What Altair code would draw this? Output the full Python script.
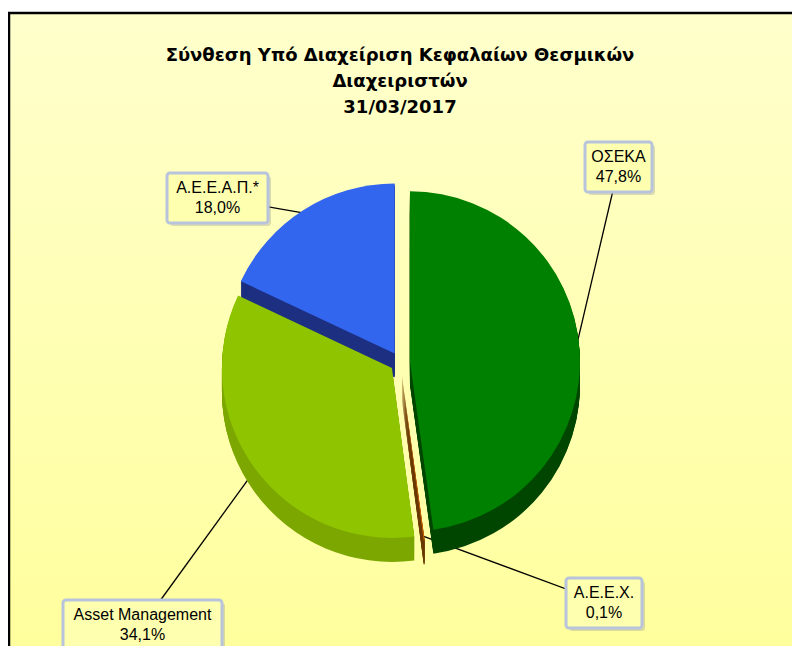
import altair as alt
import pandas as pd

# ---------------- data ----------------
categories = ["ΟΣΕΚΑ", "Α.Ε.Ε.Χ.", "Asset Management", "Α.Ε.Ε.Α.Π.*"]
shares = [47.8, 0.1, 34.1, 18.0]
title_lines = ["Σύνθεση Υπό Διαχείριση  Κεφαλαίων  Θεσμικών", "Διαχειριστών", "31/03/2017"]

# ---------------- styles ----------------
top_colors = ["#008000", "#CC6600", "#8FC400", "#3366EE"]
side_colors = ["#004600", "#6B3A00", "#7CA600", "#1C2F80"]
# label box corners (x0, y0, x1, y1) in chart pixels
label_boxes = [
    (577, 134, 644, 184),
    (558, 570, 634, 620),
    (55, 592, 214, 642),
    (159, 165, 260, 215),
]
W, H = 784, 638
CX, CY, R, E, DEPTH = 392, 354, 170, 10, 24
FONT = "Liberation Sans"
LH = 20

df = pd.DataFrame({
    "cat": categories,
    "value": shares,
    "idx": list(range(len(categories))),
    "top": top_colors,
    "side": side_colors,
    "bx0": [b[0] for b in label_boxes],
    "by0": [b[1] for b in label_boxes],
    "bx1": [b[2] for b in label_boxes],
    "by1": [b[3] for b in label_boxes],
})

base = alt.Chart(df).transform_window(
    cum="sum(value)", sort=[alt.SortField("idx")], frame=[None, 0]
).transform_calculate(
    start="datum.cum - datum.value",
    mid="(datum.cum - datum.value / 2) * 2 * PI / 100",
    px=f"{CX} + {E} * sin(datum.mid)",
    py=f"{CY} - {E} * cos(datum.mid)",
    rx=f"{CX} + {E + R - 4} * sin(datum.mid)",
    ry=f"{CY} - {E + R - 4} * cos(datum.mid)",
    lx="(datum.bx0 + datum.bx1) / 2",
    ly="(datum.by0 + datum.by1) / 2",
    ty=f"(datum.by0 + datum.by1) / 2 - {LH / 2}",
    label="datum.cat + '\\n' + replace(format(datum.value, '.1f'), '.', ',') + '%'",
)

theta = alt.Theta("start:Q", stack=None,
                  scale=alt.Scale(domain=[0, 100], range=[0, 6.283185307179586]))
theta2 = alt.Theta2("cum:Q")

# background with frame
bg = alt.Chart(pd.DataFrame({"a": [0]})).mark_rect(
    fill=alt.Gradient(
        gradient="linear",
        stops=[alt.GradientStop(color="#FFFFCC", offset=0),
               alt.GradientStop(color="#FFFF99", offset=1)],
        x1=0, x2=0, y1=0, y2=1,
    ),
    stroke="black", strokeWidth=2.5,
).encode(x=alt.value(1), y=alt.value(5), x2=alt.value(820), y2=alt.value(700))

title = alt.Chart(pd.DataFrame({"t": ["\n".join(title_lines)]})).mark_text(
    font="DejaVu Sans", fontWeight="bold", fontSize=18, lineBreak="\n",
    lineHeight=26, baseline="alphabetic", align="center", color="black",
).encode(x=alt.value(W / 2), y=alt.value(53), text="t:N")

leaders = base.mark_rule(color="black", strokeWidth=1.3).encode(
    x=alt.X("rx:Q", scale=None), y=alt.Y("ry:Q", scale=None),
    x2="lx:Q", y2="ly:Q",
)

sides = base.transform_calculate(
    d=f"sequence(1, {DEPTH + 1})"
).transform_flatten(["d"]).transform_calculate(
    pyd="datum.py + datum.d"
).mark_arc(radius=R).encode(
    x=alt.X("px:Q", scale=None), y=alt.Y("pyd:Q", scale=None),
    theta=theta, theta2=theta2, color=alt.Color("side:N", scale=None),
)

tops = base.mark_arc(radius=R).encode(
    x=alt.X("px:Q", scale=None), y=alt.Y("py:Q", scale=None),
    theta=theta, theta2=theta2, color=alt.Color("top:N", scale=None),
)

shadow = base.transform_calculate(
    sx0="datum.bx0 + 3", sx1="datum.bx1 + 3", sy0="datum.by0 + 3", sy1="datum.by1 + 3"
).mark_rect(fill="#999999", opacity=0.35, cornerRadius=3).encode(
    x=alt.X("sx0:Q", scale=None), x2="sx1:Q",
    y=alt.Y("sy0:Q", scale=None), y2="sy1:Q",
)

boxes = base.mark_rect(fill="#FFFFB0", stroke="#B8C4DC", strokeWidth=3, cornerRadius=3).encode(
    x=alt.X("bx0:Q", scale=None), x2="bx1:Q",
    y=alt.Y("by0:Q", scale=None), y2="by1:Q",
)

labels = base.mark_text(
    font=FONT, fontSize=16, lineBreak="\n", lineHeight=LH,
    baseline="middle", align="center", color="black",
).encode(x=alt.X("lx:Q", scale=None), y=alt.Y("ty:Q", scale=None), text="label:N")

chart = alt.layer(bg, title, leaders, sides, tops, shadow, boxes, labels).properties(
    width=W, height=H, padding=0,
    autosize=alt.AutoSizeParams(type="none"),
).configure_view(stroke=None)

chart.save("out.html", embed_options={"renderer": "svg", "actions": False})
